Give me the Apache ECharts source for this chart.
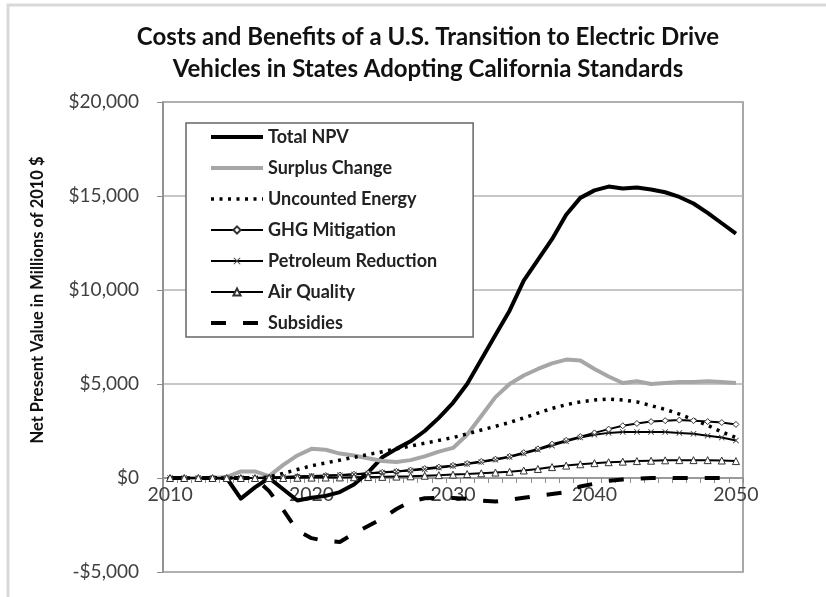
<!DOCTYPE html>
<html>
<head>
<meta charset="utf-8">
<script src="https://cdn.jsdelivr.net/npm/echarts@6/dist/echarts.min.js"></script>
<style>
  html, body { margin: 0; padding: 0; background: #fff; }
  #chart { width: 826px; height: 597px; }
</style>
</head>
<body>
<div id="chart"></div>
<script>
// Years on the horizontal axis
const years = [];
for (let y = 2010; y <= 2050; y++) years.push(String(y));

// Net present value components, millions of 2010 dollars
const totalNPV = [0, 0, 0, 0, 0, -1100, -500, 0, -600, -1200,
  -1050, -950, -750, -350, 300, 1100, 1550, 1950, 2500, 3200,
  4000, 5000, 6300, 7600, 8900, 10500, 11600, 12700, 14000, 14900,
  15300, 15500, 15400, 15450, 15350, 15200, 14950, 14600, 14100, 13550,
  13000];
const surplusChange = [0, 0, 0, 0, 50, 350, 350, 100, 700, 1200,
  1550, 1500, 1300, 1200, 1050, 900, 850, 950, 1150, 1400,
  1600, 2300, 3300, 4300, 5000, 5450, 5800, 6100, 6300, 6250,
  5800, 5400, 5050, 5150, 5000, 5050, 5100, 5100, 5150, 5100,
  5050];
const uncountedEnergy = [0, 0, 0, 0, 0, 0, 0, 50, 250, 450,
  650, 800, 950, 1100, 1250, 1400, 1550, 1700, 1850, 2000,
  2150, 2350, 2550, 2750, 2950, 3200, 3450, 3700, 3900, 4050,
  4150, 4200, 4150, 4050, 3850, 3650, 3400, 3100, 2800, 2450,
  2150];
const ghgMitigation = [0, 0, 0, 0, 0, 0, 0, 20, 50, 80,
  100, 130, 160, 200, 250, 300, 350, 420, 500, 580,
  670, 770, 880, 1000, 1150, 1350, 1550, 1800, 2000, 2200,
  2400, 2600, 2780, 2900, 3000, 3050, 3080, 3050, 3000, 2950,
  2850];
const petroleumReduction = [0, 0, 0, 0, 0, 0, 0, 20, 50, 80,
  100, 120, 150, 190, 240, 290, 340, 400, 470, 550,
  640, 740, 850, 970, 1120, 1300, 1500, 1720, 1950, 2150,
  2300, 2400, 2450, 2450, 2450, 2450, 2400, 2350, 2250, 2150,
  2000];
const airQuality = [0, 0, 0, 0, 0, 0, 0, 0, 0, 10,
  20, 25, 30, 40, 50, 60, 75, 90, 120, 150,
  180, 210, 250, 290, 330, 400, 480, 580, 660, 730,
  790, 840, 870, 900, 920, 940, 950, 950, 950, 930,
  900];
const subsidies = [0, 0, 0, 0, 0, 0, 0, -700, -1700, -2800,
  -3200, -3350, -3400, -2950, -2550, -2150, -1650, -1250, -1080, -1060,
  -1060, -1100, -1200, -1250, -1150, -1050, -950, -850, -750, -450,
  -300, -150, -80, -30, 0, 0, 0, 0, 0, 0,
  0];

// Vertical axis range
const yMin = -5000, yMax = 20000, yStep = 5000;

// Plot area placement
const gridBox = { left: 163, right: 83, top: 102, bottom: 25 };
const plotHeight = 597 - gridBox.top - gridBox.bottom;
// the category axis sits on the zero line
const zeroOffset = -(0 - yMin) / (yMax - yMin) * plotHeight;

const FONT = 'Lato, "Open Sans", sans-serif';
const xMark = 'path://M1,0L5,4L9,0L10,1L6,5L10,9L9,10L5,6L1,10L0,9L4,5L0,1Z';

function money(v) {
  const s = '$' + Math.abs(v).toLocaleString('en-US');
  return v < 0 ? '-' + s : s;
}

function lineSeries(name, data, lineStyle, symbol, extra) {
  return Object.assign({
    name: name,
    type: 'line',
    data: data,
    symbol: symbol || 'none',
    showSymbol: !!symbol,
    smooth: false,
    animation: false,
    lineStyle: lineStyle,
    emphasis: { disabled: true }
  }, extra || {});
}

// legend entries: plain lines have no marker in the key
const plainKey = (name) => ({ name: name, itemStyle: { opacity: 0 } });

const chart = echarts.init(document.getElementById('chart'), null, { renderer: 'canvas' });

chart.setOption({
  backgroundColor: '#ffffff',
  animation: false,
  textStyle: { fontFamily: FONT },
  title: {
    text: 'Costs and Benefits of a U.S. Transition to Electric Drive\nVehicles in States Adopting California Standards',
    left: 423,
    top: 16,
    textAlign: 'center',
    textStyle: {
      fontFamily: FONT, fontSize: 24, fontWeight: 'bold', color: '#111', lineHeight: 32
    }
  },
  graphic: [
    {
      type: 'rect',
      shape: { x: 8, y: 5, width: 900, height: 700 },
      style: { fill: 'none', stroke: '#d9d9d9', lineWidth: 3 },
      silent: true, z: -1
    },
    {
      type: 'text',
      x: 38, y: 300,
      rotation: Math.PI / 2,
      style: {
        text: 'Net Present Value in Millions of 2010 $',
        fontFamily: FONT, fontSize: 16.5, fontWeight: 'bold', fill: '#111',
        textAlign: 'center', textVerticalAlign: 'middle'
      }
    }
  ],
  legend: {
    orient: 'vertical',
    left: 186,
    top: 123,
    padding: [5, 36, 5, 23],
    itemWidth: 52,
    itemHeight: 9,
    itemGap: 13,
    backgroundColor: '#fff',
    borderColor: '#666',
    borderWidth: 1.5,
    lineStyle: { width: 'inherit' },
    textStyle: { fontFamily: FONT, fontSize: 18, fontWeight: 'bold', color: '#222' },
    data: [plainKey('Total NPV'), plainKey('Surplus Change'), plainKey('Uncounted Energy'),
      'GHG Mitigation', 'Petroleum Reduction', 'Air Quality', plainKey('Subsidies')]
  },
  grid: Object.assign({
    show: true, borderColor: '#8c8c8c', borderWidth: 1.5, backgroundColor: 'transparent'
  }, gridBox),
  xAxis: {
    type: 'category',
    data: years,
    boundaryGap: true,
    position: 'bottom',
    offset: zeroOffset,
    axisLine: { onZero: false, lineStyle: { color: '#8c8c8c', width: 1.5 } },
    axisTick: { show: true, interval: 0, length: 5, lineStyle: { color: '#8c8c8c' } },
    axisLabel: {
      interval: 9, margin: 7, fontFamily: FONT, fontSize: 19.5, color: '#404040'
    },
    splitLine: { show: false }
  },
  yAxis: {
    type: 'value',
    min: yMin, max: yMax, interval: yStep,
    axisLine: { show: true, lineStyle: { color: '#8c8c8c', width: 1.5 } },
    axisTick: { show: true, length: 6, lineStyle: { color: '#8c8c8c' } },
    axisLabel: {
      formatter: money, margin: 24, fontFamily: FONT, fontSize: 19, color: '#404040'
    },
    splitLine: { show: true, lineStyle: { color: '#b3b3b3', width: 1.5 } }
  },
  series: [
    lineSeries('Total NPV', totalNPV, { color: '#000', width: 4, join: 'round' }, null, { color: '#000' }),
    lineSeries('Surplus Change', surplusChange, { color: '#a6a6a6', width: 4, join: 'round' }, null, { color: '#a6a6a6' }),
    lineSeries('Uncounted Energy', uncountedEnergy, { color: '#000', width: 3.5, type: [3, 5.5] }, null, { color: '#000' }),
    lineSeries('GHG Mitigation', ghgMitigation, { color: '#000', width: 2 }, 'diamond',
      { color: '#000', symbolSize: 6, itemStyle: { color: '#fff', borderColor: '#333', borderWidth: 1 } }),
    lineSeries('Petroleum Reduction', petroleumReduction, { color: '#000', width: 2 }, xMark,
      { color: '#000', symbolSize: 6, itemStyle: { color: '#444' } }),
    lineSeries('Air Quality', airQuality, { color: '#000', width: 2 }, 'triangle',
      { color: '#000', symbolSize: 7, itemStyle: { color: '#fff', borderColor: '#333', borderWidth: 1 } }),
    lineSeries('Subsidies', subsidies, { color: '#000', width: 4, type: [15, 17] }, null, { color: '#000' })
  ]
});
</script>
</body>
</html>
